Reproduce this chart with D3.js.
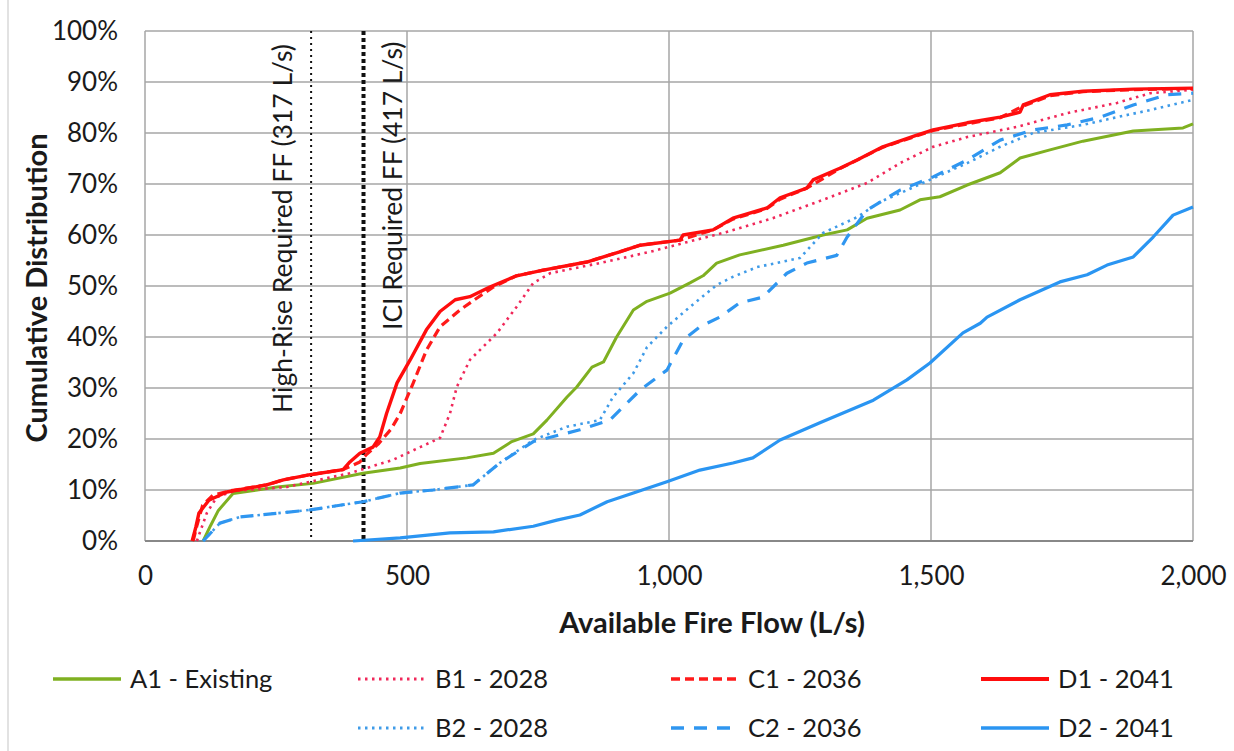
<!DOCTYPE html>
<html>
<head>
<meta charset="utf-8">
<script src="https://cdn.jsdelivr.net/npm/d3@7"></script>
<style>
  body { margin: 0; background: #fff; }
  text { font-family: Lato, "Open Sans", sans-serif; fill: #1a1a1a; }
</style>
</head>
<body>
<svg width="1234" height="751"></svg>
<script>
let svg = d3.select("svg");

// available fire flow (L/s) vs cumulative distribution (%)
let a1Existing = [[111,0],[125,3],[140,6],[168,9.3],[252,10.6],[321,11.3],[416,13.3],[487,14.3],[525,15.2],[614,16.3],[665,17.2],[700,19.5],[741,21],[767,23.7],[805,28.2],[824,30.2],[853,34.1],[875,35.1],[900,40],[932,45.3],[958,47],[1002,48.6],[1040,50.6],[1065,52],[1091,54.5],[1135,56.1],[1218,58],[1294,60],[1340,61],[1378,63.3],[1441,64.9],[1479,66.9],[1517,67.5],[1569,69.8],[1632,72.2],[1670,75.1],[1727,76.7],[1790,78.4],[1886,80.4],[1981,81],[2000,81.8]];
let b1_2028 = [[99,0],[118,5.5],[137,8.6],[170,9.8],[271,10.6],[391,13.3],[473,15.9],[525,18.4],[563,20.2],[582,25],[595,30.2],[620,35.5],[672,40.8],[709,45.9],[741,50.6],[773,52.5],[868,54.5],[964,56.7],[1034,58.6],[1103,60.4],[1198,63.3],[1294,66.9],[1378,70.2],[1441,74.1],[1504,77.3],[1569,79.2],[1664,81.2],[1760,83.9],[1855,85.9],[1918,87.8],[2000,88.5]];
let c1_2036 = [[92,0],[99,3],[110,7],[130,9],[160,9.8],[232,11],[264,12],[315,13],[378,14],[410,15.5],[423,17],[445,19],[470,22],[487,25],[512,31],[537,37.4],[563,42],[601,45.3],[633,47.6],[665,49.8],[709,52],[760,53.1],[843,54.7],[906,56.7],[945,58],[1021,59],[1084,61],[1122,63.1],[1187,65.2],[1212,67],[1263,69.2],[1326,73],[1408,77.2],[1504,80.5],[1632,83],[1676,85.3],[1727,87.3],[1790,88.1],[1886,88.5],[2000,88.7]];
let d1_2041 = [[90,0],[97,2.7],[103,5.5],[122,8],[156,9.6],[232,11],[264,12],[315,13],[378,14],[391,15.5],[410,17.2],[435,18.4],[448,20.4],[461,25],[481,31],[506,35.5],[537,41.4],[563,45],[592,47.3],[620,47.9],[658,49.8],[709,52],[760,53.1],[843,54.7],[906,56.7],[945,58],[1021,59],[1027,60],[1084,61],[1122,63.3],[1187,65.3],[1212,67.3],[1263,69.2],[1275,70.8],[1326,73.1],[1359,74.7],[1408,77.3],[1473,79.6],[1504,80.6],[1569,82],[1632,83.1],[1670,84.1],[1676,85.5],[1727,87.5],[1790,88.2],[1886,88.6],[2000,88.8]];
let b2_2028 = [[111,0],[143,3.5],[181,4.7],[315,6.1],[416,7.7],[487,9.4],[550,10],[626,11],[677,15.3],[741,19.8],[805,22.4],[868,23.7],[893,28.2],[932,32.9],[958,38],[996,42],[1040,45.9],[1091,50.2],[1122,51.8],[1168,53.7],[1250,55.5],[1294,60.4],[1359,63.5],[1403,66.5],[1441,68.2],[1504,71.1],[1569,74.1],[1632,77.3],[1695,80],[1790,81.6],[1855,83.1],[1918,84.5],[2000,86.5]];
let c2_2036 = [[111,0],[143,3.5],[181,4.7],[315,6.1],[416,7.7],[487,9.4],[550,10],[626,11],[677,15.3],[741,19.5],[830,21.8],[887,23.7],[945,29.6],[996,33.5],[1027,39.4],[1059,42],[1097,43.9],[1135,46.7],[1179,47.8],[1225,52.5],[1263,54.5],[1320,56],[1340,59.6],[1378,64.9],[1441,68.8],[1504,71.4],[1569,74.7],[1632,78.6],[1695,80.6],[1760,81.6],[1823,83.1],[1886,85.5],[1950,87.5],[2000,87.8]];
let d2_2041 = [[397,0],[487,0.6],[582,1.6],[665,1.8],[741,2.9],[786,4.1],[830,5.1],[882,7.7],[932,9.4],[996,11.6],[1059,13.9],[1122,15.3],[1160,16.3],[1212,19.8],[1288,23.2],[1390,27.6],[1454,31.6],[1498,34.9],[1561,40.8],[1594,42.7],[1607,43.9],[1670,47.3],[1746,50.8],[1798,52.2],[1836,54.1],[1886,55.7],[1924,59.6],[1962,63.9],[2000,65.5]];

let seriesNames = ["A1 - Existing", "B1 - 2028", "C1 - 2036", "D1 - 2041", "B2 - 2028", "C2 - 2036", "D2 - 2041"];
let seriesData = [a1Existing, b1_2028, c1_2036, d1_2041, b2_2028, c2_2036, d2_2041];
let xTicks = [0, 500, 1000, 1500, 2000];
let yTicks = [0, 10, 20, 30, 40, 50, 60, 70, 80, 90, 100];
let refFlows = [317, 417];
let refLabels = ["High-Rise Required FF (317 L/s)", "ICI Required FF (417 L/s)"];

let styles = [
    {color: "#7fb021", width: 3, dash: null},
    {color: "#f0285a", width: 2.6, dash: "2.5,4.5"},
    {color: "#ff1a1a", width: 3.2, dash: "9,5"},
    {color: "#ff0d0d", width: 3.4, dash: null},
    {color: "#3f9be8", width: 2.6, dash: "2.5,4.5"},
    {color: "#2f96f0", width: 3.2, dash: "13,10"},
    {color: "#2a95f2", width: 3.2, dash: null}
];

let mLeft = 145, mTop = 31, plotW = 1048, plotH = 510;
let x = d3.scaleLinear().domain([0, 2000]).range([mLeft, mLeft + plotW]);
let y = d3.scaleLinear().domain([0, 100]).range([mTop + plotH, mTop]);

// frame edge
svg.append("line").attr("x1", 8).attr("x2", 8).attr("y1", 0).attr("y2", 751)
    .attr("stroke", "#d9d9d9").attr("stroke-width", 1.5);

// gridlines
svg.append("g").selectAll("line").data(yTicks).join("line")
    .attr("x1", mLeft).attr("x2", mLeft + plotW)
    .attr("y1", d => y(d)).attr("y2", d => y(d))
    .attr("stroke", "#a6a6a6").attr("stroke-width", 1.5);
svg.append("g").selectAll("line").data(xTicks).join("line")
    .attr("x1", d => x(d)).attr("x2", d => x(d))
    .attr("y1", mTop).attr("y2", mTop + plotH)
    .attr("stroke", "#a6a6a6").attr("stroke-width", 1.5);
svg.append("line").attr("x1", mLeft).attr("x2", mLeft + plotW)
    .attr("y1", mTop + plotH).attr("y2", mTop + plotH)
    .attr("stroke", "#888").attr("stroke-width", 2);

// axes (labels only)
let xAxis = svg.append("g").attr("transform", `translate(0,${mTop + plotH})`)
    .call(d3.axisBottom(x).tickValues(xTicks).tickFormat(d3.format(",")).tickSize(0).tickPadding(26));
let yAxis = svg.append("g").attr("transform", `translate(${mLeft},0)`)
    .call(d3.axisLeft(y).tickValues(yTicks).tickFormat(d => d + "%").tickSize(0).tickPadding(27));
[xAxis, yAxis].forEach(g => {
    g.select(".domain").remove();
    g.selectAll("text").style("font-size", "26px").attr("fill", "#1a1a1a");
});

svg.append("text").attr("x", x(1000) + 43).attr("y", 633)
    .attr("text-anchor", "middle").style("font-size", "29px").style("font-weight", "bold")
    .text("Available Fire Flow (L/s)");
svg.append("text").attr("transform", `translate(47,${288}) rotate(-90)`)
    .attr("text-anchor", "middle").style("font-size", "29px").style("font-weight", "bold")
    .text("Cumulative Distribution");

// required fire flow markers
svg.append("line").attr("x1", x(refFlows[0])).attr("x2", x(refFlows[0]))
    .attr("y1", mTop).attr("y2", mTop + plotH)
    .attr("stroke", "#111").attr("stroke-width", 2).attr("stroke-dasharray", "2,4");
svg.append("line").attr("x1", x(refFlows[1])).attr("x2", x(refFlows[1]))
    .attr("y1", mTop).attr("y2", mTop + plotH)
    .attr("stroke", "#111").attr("stroke-width", 4).attr("stroke-dasharray", "4,3");
svg.append("text").attr("transform", `translate(${x(refFlows[0]) - 19},413) rotate(-90)`)
    .style("font-size", "26.5px").text(refLabels[0]);
svg.append("text").attr("transform", `translate(${x(refFlows[1]) + 38},330) rotate(-90)`)
    .style("font-size", "26.5px").text(refLabels[1]);

// series
let line = d3.line().x(d => x(d[0])).y(d => y(d[1]));
let drawOrder = [6, 0, 4, 5, 1, 2, 3];
drawOrder.forEach(i => {
    svg.append("path").datum(seriesData[i])
        .attr("d", line)
        .attr("fill", "none")
        .attr("stroke", styles[i].color)
        .attr("stroke-width", styles[i].width)
        .attr("stroke-dasharray", styles[i].dash)
        .attr("stroke-linejoin", "round");
});

// legend
let legX = [53, 358, 671, 981];
let legY = [679, 728];
seriesNames.forEach((name, i) => {
    let col = i < 4 ? i : i - 3;
    let row = i < 4 ? 0 : 1;
    let g = svg.append("g").attr("transform", `translate(${legX[col]},${legY[row]})`);
    g.append("line").attr("x1", 0).attr("x2", 68).attr("y1", 0).attr("y2", 0)
        .attr("stroke", styles[i].color)
        .attr("stroke-width", styles[i].width + 0.5)
        .attr("stroke-dasharray", styles[i].dash);
    g.append("text").attr("x", 77).attr("y", 9).style("font-size", "25.5px").text(name);
});
</script>
</body>
</html>
